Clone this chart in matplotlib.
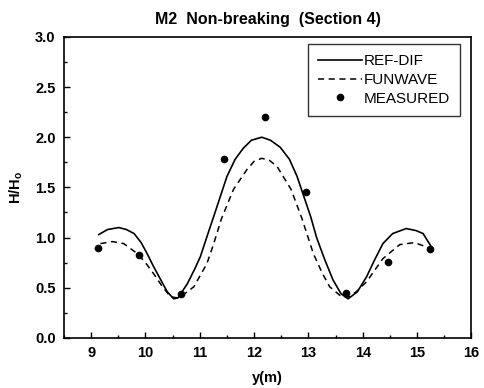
import matplotlib
matplotlib.use("Agg")
import matplotlib.pyplot as plt
from matplotlib.ticker import MultipleLocator

plt.rcParams['font.family'] = ['Liberation Sans', 'DejaVu Sans']
plt.rcParams['mathtext.fontset'] = 'custom'
plt.rcParams['mathtext.bf'] = 'Liberation Sans:bold'
plt.rcParams['mathtext.rm'] = 'Liberation Sans'

# REF-DIF curve
refdif_y = [9.14, 9.30, 9.51, 9.65, 9.79, 9.92, 10.03, 10.15, 10.28, 10.40,
            10.52, 10.60, 10.77, 10.90, 11.01, 11.15, 11.28, 11.50, 11.65, 11.80,
            11.95, 12.14, 12.30, 12.48, 12.65, 12.79, 13.04, 13.15, 13.30, 13.45,
            13.60, 13.73, 13.90, 14.07, 14.22, 14.37, 14.55, 14.80, 14.98, 15.11, 15.26]
refdif_h = [1.03, 1.08, 1.10, 1.08, 1.04, 0.95, 0.84, 0.71, 0.58, 0.46,
            0.39, 0.40, 0.54, 0.68, 0.81, 1.04, 1.25, 1.61, 1.78, 1.89,
            1.97, 2.00, 1.97, 1.90, 1.78, 1.61, 1.21, 1.00, 0.78, 0.58,
            0.44, 0.39, 0.46, 0.61, 0.78, 0.94, 1.04, 1.09, 1.07, 1.04, 0.91]

# FUNWAVE curve
funwave_y = [9.17, 9.39, 9.60, 9.85, 10.00, 10.15, 10.30, 10.46, 10.58, 10.72,
             10.89, 11.13, 11.25, 11.40, 11.62, 11.87, 12.00, 12.14, 12.28, 12.42,
             12.68, 12.88, 13.09, 13.25, 13.39, 13.61, 13.76, 13.90, 14.07, 14.37,
             14.68, 14.95, 15.26]
funwave_h = [0.94, 0.96, 0.94, 0.84, 0.75, 0.64, 0.52, 0.41, 0.40, 0.44,
             0.51, 0.74, 0.93, 1.19, 1.48, 1.68, 1.76, 1.79, 1.77, 1.71,
             1.48, 1.19, 0.84, 0.65, 0.51, 0.41, 0.41, 0.47, 0.56, 0.79,
             0.93, 0.95, 0.89]

# measured points
meas_y = [9.12, 9.88, 10.65, 11.45, 12.20, 12.96, 13.70, 14.47, 15.24]
meas_h = [0.90, 0.83, 0.44, 1.78, 2.20, 1.45, 0.45, 0.76, 0.89]

fig = plt.figure(figsize=(4.85, 3.88), dpi=100)
ax = fig.add_axes([0.132, 0.129, 0.840, 0.776])

ax.plot(refdif_y, refdif_h, color='black', lw=1.2, label='REF-DIF')
ax.plot(funwave_y, funwave_h, color='black', lw=1.1, ls=(0, (4, 3)), label='FUNWAVE')
ax.plot(meas_y, meas_h, 'o', color='black', ms=4.5, label='MEASURED')

ax.set_xlim(8.5, 16)
ax.set_ylim(0, 3.0)
ax.xaxis.set_minor_locator(MultipleLocator(0.5))
ax.yaxis.set_minor_locator(MultipleLocator(0.25))
ax.set_yticks([0, 0.5, 1.0, 1.5, 2.0, 2.5, 3.0])
ax.set_yticklabels(['0.0', '0.5', '1.0', '1.5', '2.0', '2.5', '3.0'])
ax.set_xticks([9, 10, 11, 12, 13, 14, 15, 16])
ax.tick_params(which='both', direction='in', top=False, right=False,
               labelsize=10.5, pad=6)
ax.tick_params(which='major', length=4, width=1)
ax.tick_params(which='minor', length=2.5, width=1)
for lab in ax.get_xticklabels() + ax.get_yticklabels():
    lab.set_fontweight('bold')
for sp in ax.spines.values():
    sp.set_linewidth(1.2)

ax.set_xlabel('y(m)', fontsize=10.5, fontweight='bold', labelpad=8)
ax.set_ylabel(r'$\mathbf{H/H_o}$', fontsize=10.5, labelpad=7)
ax.set_title('M2  Non-breaking  (Section 4)', fontsize=11.5, fontweight='bold', pad=9)

leg = ax.legend(loc='upper right', bbox_to_anchor=(0.973, 0.976), borderaxespad=0,
                fontsize=11, frameon=True, fancybox=False, edgecolor='black',
                handlelength=2.9, handletextpad=0.15, labelspacing=0.32,
                borderpad=0.65, numpoints=1)
leg.get_frame().set_linewidth(1.0)

fig.savefig('out.png', dpi=100)
